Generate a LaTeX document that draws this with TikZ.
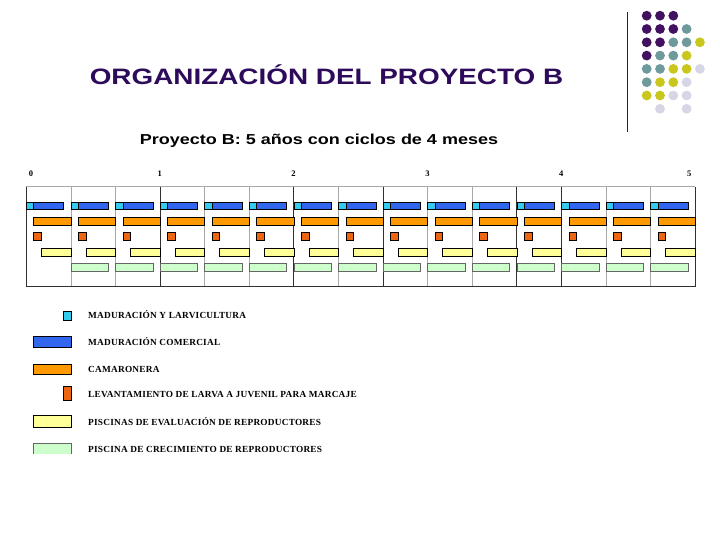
\documentclass[tikz,border=0pt]{standalone}
\usepackage{fontspec}
\usepackage{graphicx}
\setmainfont{Liberation Serif}
\newfontfamily\titlesans{Liberation Sans}
\newfontfamily\legendserif[LetterSpace=2.5]{Liberation Serif}
\definecolor{titlepurple}{HTML}{2D0B5A}
\definecolor{dotpurple}{HTML}{421160}
\definecolor{dotteal}{HTML}{6F9A9C}
\definecolor{dotyellow}{HTML}{C9C71E}
\definecolor{dotlav}{HTML}{D6D6E6}
\definecolor{barcyan}{HTML}{33CCEE}
\definecolor{barblue}{HTML}{3366EE}
\definecolor{barorange}{HTML}{FF9900}
\definecolor{bardark}{HTML}{EE6611}
\definecolor{baryellow}{HTML}{FFFF99}
\definecolor{bargreen}{HTML}{CCFFCC}
\definecolor{gridgray}{HTML}{A8A8A8}
\definecolor{griddark}{HTML}{303030}
\tikzset{
  barbox/.style={line width=0.8pt, draw=black},
  greenbox/.style={line width=0.8pt, draw=black!60, fill=bargreen},
  thingrid/.style={line width=0.8pt, draw=gridgray},
  darkgrid/.style={line width=0.9pt, draw=griddark},
  legendtext/.style={anchor=base west, inner sep=0pt, font=\legendserif\bfseries\fontsize{9.3}{11}\selectfont},
  yeartext/.style={anchor=base, inner sep=0pt, font=\bfseries\fontsize{8.5}{10}\selectfont},
  dotfill/.style={fill=#1}
}
\begin{document}
\begin{tikzpicture}[x=1pt,y=-1pt]
\useasboundingbox (0,0) rectangle (720,540);
\fill[white] (0,0) rectangle (720,540);

% title and subtitle
\node[anchor=base, inner sep=0pt, text=titlepurple, font=\titlesans\bfseries\fontsize{22.3}{26}\selectfont] (title) at (326.5,84.3) {\scalebox{1.25}[1]{ORGANIZACIÓN DEL PROYECTO B}};
\node[anchor=base, inner sep=0pt, text=black, font=\titlesans\bfseries\fontsize{14.4}{17}\selectfont] (subtitle) at (319,145) {\scalebox{1.25}[1]{Proyecto B: 5 años con ciclos de 4 meses}};

% decoration top right
\draw[line width=1pt, black!85] (627.3,12) -- (627.3,132);
\foreach \col/\row/\clr in {1/1/dotpurple,2/1/dotpurple,3/1/dotpurple,
  1/2/dotpurple,2/2/dotpurple,3/2/dotpurple,4/2/dotteal,
  1/3/dotpurple,2/3/dotpurple,3/3/dotteal,4/3/dotteal,5/3/dotyellow,
  1/4/dotpurple,2/4/dotteal,3/4/dotteal,4/4/dotyellow,
  1/5/dotteal,2/5/dotteal,3/5/dotyellow,4/5/dotyellow,5/5/dotlav,
  1/6/dotteal,2/6/dotyellow,3/6/dotyellow,4/6/dotlav,
  1/7/dotyellow,2/7/dotyellow,3/7/dotlav,4/7/dotlav,
  2/8/dotlav,4/8/dotlav}
  \fill[dotfill=\clr] ({646.7+13.3*(\col-1)},{15.7+13.3*(\row-1)}) circle[radius=4.9pt];

% year labels
\node[yeartext] (y0) at (31,176.3) {0};
\node[yeartext] (y1) at (159.8,176.3) {1};
\node[yeartext] (y2) at (293.6,176.3) {2};
\node[yeartext] (y3) at (427.4,176.3) {3};
\node[yeartext] (y4) at (561.2,176.3) {4};
\node[yeartext] (y5) at (689.3,176.3) {5};

% grid
\foreach \i in {1,2,4,5,7,9,10,13,14}
  \draw[thingrid] ({26.3+44.6*\i},186.7) -- ({26.3+44.6*\i},286.7);
\draw[thingrid] (26.3,186.7) -- (695.3,186.7);
\foreach \i in {3,6,8,11,12}
  \draw[darkgrid] ({26.3+44.6*\i},186.7) -- ({26.3+44.6*\i},286.7);
\draw[darkgrid] (26.3,186.7) -- (26.3,286.7) -- (695.3,286.7) -- (695.3,186.7);

% bars
\foreach \i in {0,...,14}{
  \pgfmathsetmacro\c{26.3+44.6*\i}
  \filldraw[barbox, fill=barcyan] (\c,202.3) rectangle ({\c+7.5},209.7);
  \filldraw[barbox, fill=barblue] ({\c+7.5},202.3) rectangle ({\c+37.5},209.7);
  \filldraw[barbox, fill=barorange] ({\c+7.5},217.7) rectangle ({\c+44.6},225);
  \filldraw[barbox, fill=bardark] ({\c+7.5},232.7) rectangle ({\c+15},240.7);
  \filldraw[barbox, fill=baryellow] ({\c+15},248.3) rectangle ({\c+44.6},256);
}
\foreach \i in {1,...,14}{
  \pgfmathsetmacro\c{26.3+44.6*\i}
  \filldraw[greenbox] (\c,263.3) rectangle ({\c+37.5},271);
}

% legend
\filldraw[barbox, fill=barcyan] (63.3,311.7) rectangle (71,320);
\filldraw[barbox, fill=barblue] (33.3,336.7) rectangle (71,347.3);
\filldraw[barbox, fill=barorange] (33.3,364) rectangle (71,374);
\filldraw[barbox, fill=bardark] (63.3,386.7) rectangle (71,400);
\filldraw[barbox, fill=baryellow] (33.3,415.7) rectangle (71,427.7);
\fill[bargreen] (33.3,443.3) rectangle (71,453.5);
\draw[line width=0.7pt, black!60] (33.3,453.5) -- (33.3,443.3) -- (71,443.3) -- (71,453.5);

\node[legendtext] (l1) at (88,318.3) {MADURACIÓN Y LARVICULTURA};
\node[legendtext] (l2) at (88,345.3) {MADURACIÓN COMERCIAL};
\node[legendtext] (l3) at (88,372.5) {CAMARONERA};
\node[legendtext] (l4) at (88,397.8) {LEVANTAMIENTO DE LARVA A JUVENIL PARA MARCAJE};
\node[legendtext] (l5) at (88,425.6) {PISCINAS DE EVALUACIÓN DE REPRODUCTORES};
\node[legendtext] (l6) at (88,452.5) {PISCINA DE CRECIMIENTO DE REPRODUCTORES};
\end{tikzpicture}
\end{document}
